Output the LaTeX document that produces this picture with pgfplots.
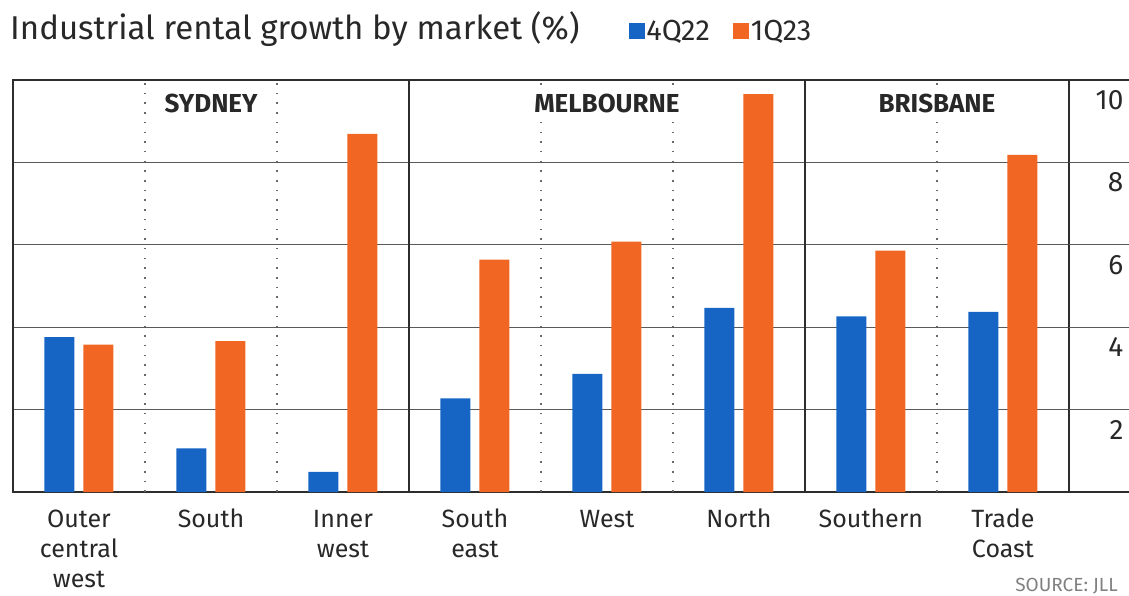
\documentclass[border=0pt]{standalone}
\usepackage{pgfplots}
\pgfplotsset{compat=1.18}
\usepackage{fontspec}
\setmainfont{Fira Sans}
\definecolor{barblue}{RGB}{22,101,196}
\definecolor{barorange}{RGB}{240,102,34}
\definecolor{txt}{RGB}{40,40,40}
\definecolor{gridc}{RGB}{90,90,90}
\definecolor{dotc}{RGB}{105,105,105}
\definecolor{framec}{RGB}{45,45,45}
\begin{document}
\begin{tikzpicture}
\useasboundingbox (-13pt,-104pt) rectangle (1116pt,492pt);
\begin{axis}[
  at={(0pt,0pt)}, anchor=south west,
  scale only axis, width=1056pt, height=412pt,
  xmin=-0.5, xmax=7.5, ymin=0, ymax=10,
  clip=false,
  axis line style={draw=framec, line width=1.8pt},
  ybar=9pt, bar width=30pt,
  xtick={0,...,7},
  xticklabels={{\strut Outer\\central\\west},{\strut South},{\strut Inner\\west},{\strut South\\east},{\strut West},{\strut North},{\strut Southern},{\strut Trade\\Coast}},
  xticklabel style={align=center, font=\fontsize{25}{30}\selectfont, text=txt, anchor=north, yshift=-11pt},
  ytick={2,4,6,8,10},
  yticklabel pos=right,
  yticklabel style={anchor=north east, xshift=58pt, yshift=-7pt, font=\fontsize{28}{30}\selectfont, text=txt},
  /pgf/number format/assume math mode=true,
  major tick length=0pt,
  ymajorgrids, grid style={draw=gridc, line width=1.2pt},
  legend style={at={(rel axis cs:0.5833,1.119)}, anchor=west, draw=none, fill=none,
    inner sep=0pt, outer sep=0pt, font=\fontsize{29}{30}\selectfont, text=txt,
    column sep=0pt, nodes={inner xsep=1.5pt, inner ysep=0pt},
    /tikz/every even column/.append style={column sep=22pt}},
  legend columns=2,
]
% dotted separators
\draw[dotc, line width=1.5pt, dash pattern=on 1.5pt off 8.2pt] (axis cs:0.5,0) -- (axis cs:0.5,10);
\draw[dotc, line width=1.5pt, dash pattern=on 1.5pt off 8.2pt] (axis cs:1.5,0) -- (axis cs:1.5,10);
\draw[dotc, line width=1.5pt, dash pattern=on 1.5pt off 8.2pt] (axis cs:3.5,0) -- (axis cs:3.5,10);
\draw[dotc, line width=1.5pt, dash pattern=on 1.5pt off 8.2pt] (axis cs:4.5,0) -- (axis cs:4.5,10);
\draw[dotc, line width=1.5pt, dash pattern=on 1.5pt off 8.2pt] (axis cs:6.5,0) -- (axis cs:6.5,10);
% solid separators
\draw[framec, line width=1.6pt] (axis cs:2.5,0) -- (axis cs:2.5,10);
\draw[framec, line width=1.6pt] (axis cs:5.5,0) -- (axis cs:5.5,10);
% grid extensions
\draw[gridc, line width=1.2pt] (axis cs:7.5,2) -- ++(51pt,0);
\draw[gridc, line width=1.2pt] (axis cs:7.5,4) -- ++(51pt,0);
\draw[gridc, line width=1.2pt] (axis cs:7.5,6) -- ++(51pt,0);
\draw[gridc, line width=1.2pt] (axis cs:7.5,8) -- ++(51pt,0);
\draw[framec, line width=1.8pt] (axis cs:7.5,10) -- ++(51pt,0);
\draw[framec, line width=1.8pt] (axis cs:7.5,0) -- ++(51pt,0);
% region labels
\node[fill=white, inner xsep=3pt, inner ysep=7pt, anchor=base, font=\bfseries\fontsize{26}{28}\selectfont, text=txt] at (axis cs:1,9.2) {SYDNEY};
\node[fill=white, inner xsep=3pt, inner ysep=7pt, anchor=base, font=\bfseries\fontsize{26}{28}\selectfont, text=txt] at (axis cs:4,9.2) {MELBOURNE};
\node[fill=white, inner xsep=3pt, inner ysep=7pt, anchor=base, font=\bfseries\fontsize{26}{28}\selectfont, text=txt] at (axis cs:6.5,9.2) {BRISBANE};
\addplot[fill=barblue, draw=none, legend image code/.code={\fill[barblue] (0pt,-8pt) rectangle (16pt,8pt);}]
  coordinates {(0,3.76) (1,1.06) (2,0.49) (3,2.27) (4,2.87) (5,4.47) (6,4.26) (7,4.37)};
\addlegendentry{4Q22}
\addplot[fill=barorange, draw=none, legend image code/.code={\fill[barorange] (0pt,-8pt) rectangle (16pt,8pt);}]
  coordinates {(0,3.58) (1,3.66) (2,8.69) (3,5.64) (4,6.08) (5,9.66) (6,5.86) (7,8.18)};
\addlegendentry{1Q23}
\end{axis}
\node[anchor=base west, inner sep=0pt, font=\fontsize{33}{36}\selectfont, text=txt] at (-3pt,452pt) {Industrial rental growth by market (\%)};
\node[anchor=base east, inner sep=0pt, font=\fontsize{19}{20}\selectfont, text=gray] at (1105pt,-100pt) {SOURCE: JLL};
\end{tikzpicture}
\end{document}
